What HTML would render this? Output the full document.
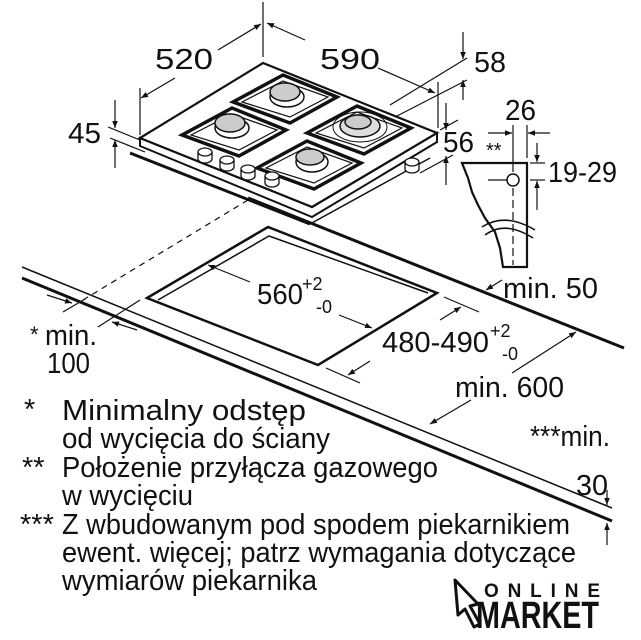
<!DOCTYPE html>
<html><head><meta charset="utf-8"><style>
html,body{margin:0;padding:0;background:#fff;}
svg{display:block;}
text{font-family:"Liberation Sans",sans-serif;fill:#111;}
</style></head><body>
<svg width="641" height="640" viewBox="0 0 641 640" xmlns="http://www.w3.org/2000/svg">
<defs>
<marker id="a" viewBox="0 0 10 10" refX="10" refY="5" markerWidth="7" markerHeight="7" orient="auto-start-reverse" markerUnits="userSpaceOnUse"><path d="M0,1 L10,5 L0,9 z" fill="#111"/></marker>
<g id="grate" fill="none" stroke="#111">
<polygon points="-53,3 -3,-24 51,-2 4,24" stroke-width="3.5"/>
<polygon points="-44,3 -3,-18 42,-2 4,18" stroke-width="1.2"/>
</g>
<g id="knob" fill="#fff" stroke="#111" stroke-width="1.3">
<path d="M-7,0 v7 a7,4 0 0 0 14,0 v-7"/>
<ellipse cx="0" cy="0" rx="7" ry="4"/>
</g>
</defs>
<g stroke="#111" fill="none">
<line x1="22" y1="267" x2="612" y2="508" stroke-width="1.5"/>
<line x1="22" y1="278" x2="612" y2="521" stroke-width="3"/>
<line x1="248" y1="198" x2="624" y2="348" stroke-width="3"/>
<line x1="248" y1="200" x2="83" y2="300" stroke-width="1.2" stroke-dasharray="6,5"/>
<line x1="63" y1="312" x2="85" y2="299" stroke-width="1.2"/>
<line x1="98" y1="327" x2="140" y2="300" stroke-width="1.2"/>
<line x1="47" y1="295" x2="72" y2="303" stroke-width="1.2" marker-end="url(#a)"/>
<line x1="137" y1="330" x2="112" y2="322" stroke-width="1.2" marker-end="url(#a)"/>
<polygon points="147,298 268,227 437,293 318,365" stroke-width="2.5"/>
<polyline points="158,300 269,236 428,293" stroke-width="1.5"/>
<line x1="250" y1="282" x2="208" y2="265" stroke-width="1.2" marker-end="url(#a)"/>
<line x1="339" y1="315" x2="372" y2="328" stroke-width="1.2" marker-end="url(#a)"/>
<line x1="444" y1="297" x2="479" y2="312" stroke-width="1.2"/>
<line x1="326" y1="368" x2="360" y2="383" stroke-width="1.2"/>
<line x1="440" y1="320" x2="461" y2="307" stroke-width="1.2" marker-end="url(#a)"/>
<line x1="370" y1="361" x2="348" y2="375" stroke-width="1.2" marker-end="url(#a)"/>
<line x1="512" y1="373" x2="576" y2="332" stroke-width="1.2" marker-end="url(#a)"/>
<line x1="471" y1="400" x2="430" y2="424" stroke-width="1.2" marker-end="url(#a)"/>
<line x1="502" y1="280" x2="486" y2="290" stroke-width="1.2" marker-end="url(#a)"/>
<line x1="607" y1="490" x2="607" y2="505" stroke-width="1.2" marker-end="url(#a)"/>
<line x1="607" y1="545" x2="607" y2="523" stroke-width="1.2" marker-end="url(#a)"/>
<polygon points="140,138 140,146 312,217 437,142 437,133 312,207" fill="#fff" stroke-width="2"/>
<polygon points="140,138 263,63 437,133 312,207" fill="#fff" stroke-width="2.2"/>
<line x1="130" y1="153" x2="310" y2="224" stroke-width="3"/>
<line x1="310" y1="224" x2="430" y2="158" stroke-width="1.5"/>
</g>
<use href="#grate" x="286" y="99"/>
<use href="#grate" x="235" y="132"/>
<use href="#grate" x="360" y="130"/>
<use href="#grate" x="310" y="165"/>
<g stroke="#111" stroke-width="1.5">
<ellipse cx="287" cy="97" rx="17" ry="10" fill="#fff"/>
<ellipse cx="285" cy="92" rx="15" ry="9" fill="#ccc"/>
<ellipse cx="232" cy="128" rx="17" ry="10" fill="#fff"/>
<ellipse cx="230" cy="123" rx="15" ry="9" fill="#ccc"/>
<ellipse cx="360" cy="127" rx="27" ry="15" fill="none" stroke-width="1"/>
<ellipse cx="360" cy="126" rx="20" ry="11" fill="#ddd"/>
<ellipse cx="358" cy="122" rx="13" ry="7" fill="#ccc"/>
<ellipse cx="312" cy="162" rx="16" ry="10" fill="#fff"/>
<ellipse cx="310" cy="157" rx="14" ry="8" fill="#ccc"/>
</g>
<use href="#knob" x="205" y="152"/>
<use href="#knob" x="227" y="160"/>
<use href="#knob" x="248" y="169"/>
<use href="#knob" x="272" y="176"/>
<use href="#knob" x="412" y="162"/>
<g stroke="#111" fill="none" stroke-width="1.2">
<line x1="108" y1="127" x2="140" y2="140"/>
<line x1="110" y1="138" x2="145" y2="152"/>
<line x1="115" y1="100" x2="115" y2="128" marker-end="url(#a)"/>
<line x1="115" y1="168" x2="115" y2="140" marker-end="url(#a)"/>
<line x1="140" y1="88" x2="140" y2="135"/>
<line x1="263" y1="2" x2="263" y2="57"/>
<line x1="175" y1="78" x2="141" y2="98" marker-end="url(#a)"/>
<line x1="218" y1="50" x2="261" y2="24" marker-end="url(#a)"/>
<line x1="305" y1="40" x2="267" y2="23" marker-end="url(#a)"/>
<line x1="378" y1="68" x2="435" y2="93" marker-end="url(#a)"/>
<line x1="438" y1="82" x2="438" y2="128"/>
<line x1="390" y1="105" x2="467" y2="58"/>
<line x1="395" y1="117" x2="467" y2="80"/>
<line x1="463" y1="32" x2="463" y2="59" marker-end="url(#a)"/>
<line x1="463" y1="100" x2="463" y2="80" marker-end="url(#a)"/>
<line x1="440" y1="130" x2="458" y2="120"/>
<line x1="420" y1="173" x2="453" y2="155"/>
<line x1="446" y1="103" x2="446" y2="130" marker-end="url(#a)"/>
<line x1="446" y1="185" x2="446" y2="156" marker-end="url(#a)"/>
<path d="M462,163 L527,163 L527,267 L503,267 L500,248 L495,232 L485,218 L478,205 L472,192 L468,178 Z" fill="#fff" stroke-width="2.2"/>
<path d="M482,227 Q505,212 535,230" stroke-width="1.5"/>
<path d="M485,235 Q505,220 533,238" stroke-width="1.5"/>
<circle cx="513" cy="180" r="6" fill="#fff" stroke-width="1.5"/>
<line x1="513" y1="125" x2="513" y2="172"/>
<line x1="513" y1="188" x2="513" y2="265" stroke-dasharray="8,4"/>
<line x1="488" y1="180" x2="507" y2="180"/>
<line x1="527" y1="125" x2="527" y2="158"/>
<line x1="488" y1="133" x2="512" y2="133" marker-end="url(#a)"/>
<line x1="550" y1="133" x2="528" y2="133" marker-end="url(#a)"/>
<line x1="530" y1="163" x2="545" y2="163"/>
<line x1="530" y1="180" x2="545" y2="180"/>
<line x1="537" y1="143" x2="537" y2="162" marker-end="url(#a)"/>
<line x1="537" y1="210" x2="537" y2="181" marker-end="url(#a)"/>
</g>
<g font-size="29">
<text x="155" y="69" textLength="58" lengthAdjust="spacingAndGlyphs">520</text>
<text x="320" y="69" textLength="60" lengthAdjust="spacingAndGlyphs">590</text>
<text x="474" y="72" textLength="32" lengthAdjust="spacingAndGlyphs">58</text>
<text x="68" y="143" textLength="33" lengthAdjust="spacingAndGlyphs">45</text>
<text x="505" y="120" textLength="31" lengthAdjust="spacingAndGlyphs">26</text>
<text x="443" y="152" textLength="31" lengthAdjust="spacingAndGlyphs">56</text>
<text x="548" y="182" textLength="69" lengthAdjust="spacingAndGlyphs">19-29</text>
<text x="503" y="298" textLength="95" lengthAdjust="spacingAndGlyphs">min. 50</text>
<text x="257" y="304" textLength="46" lengthAdjust="spacingAndGlyphs">560</text>
<text x="382" y="352" textLength="107" lengthAdjust="spacingAndGlyphs">480-490</text>
<text x="455" y="397" textLength="109" lengthAdjust="spacingAndGlyphs">min. 600</text>
<text x="45" y="345" textLength="52" lengthAdjust="spacingAndGlyphs">min.</text>
<text x="47" y="373" textLength="43" lengthAdjust="spacingAndGlyphs">100</text>
<text x="576" y="495" textLength="32" lengthAdjust="spacingAndGlyphs">30</text>
<text x="530" y="446" textLength="80" lengthAdjust="spacingAndGlyphs">***min.</text>
</g>
<g font-size="18">
<text x="302" y="290">+2</text><text x="316" y="313">-0</text>
<text x="490" y="337">+2</text><text x="502" y="360">-0</text>
</g>
<text x="30" y="342" font-size="22">*</text>
<text x="486" y="157" font-size="20">**</text>
<g font-size="29">
<text x="24" y="419">*</text>
<text x="62" y="420" textLength="244" lengthAdjust="spacingAndGlyphs">Minimalny odstęp</text>
<text x="62" y="448" textLength="268" lengthAdjust="spacingAndGlyphs">od wycięcia do ściany</text>
<text x="22" y="477">**</text>
<text x="62" y="477" textLength="376" lengthAdjust="spacingAndGlyphs">Położenie przyłącza gazowego</text>
<text x="62" y="505" textLength="131" lengthAdjust="spacingAndGlyphs">w wycięciu</text>
<text x="20" y="534">***</text>
<text x="62" y="534" textLength="508" lengthAdjust="spacingAndGlyphs">Z wbudowanym pod spodem piekarnikiem</text>
<text x="62" y="562" textLength="514" lengthAdjust="spacingAndGlyphs">ewent. więcej; patrz wymagania dotyczące</text>
<text x="62" y="590" textLength="255" lengthAdjust="spacingAndGlyphs">wymiarów piekarnika</text>
</g>
<path d="M455,580 L478,604 L470,606 L480,624 L474,627 L465,609 L458,615 Z" fill="#fff" stroke="#111" stroke-width="3" stroke-linejoin="round"/>
<text x="484" y="597" font-size="19" font-weight="bold" textLength="116" lengthAdjust="spacing">ONLINE</text>
<text x="476" y="628" font-size="38" font-weight="bold" textLength="123" lengthAdjust="spacingAndGlyphs">MARKET</text>
</svg>
</body></html>
